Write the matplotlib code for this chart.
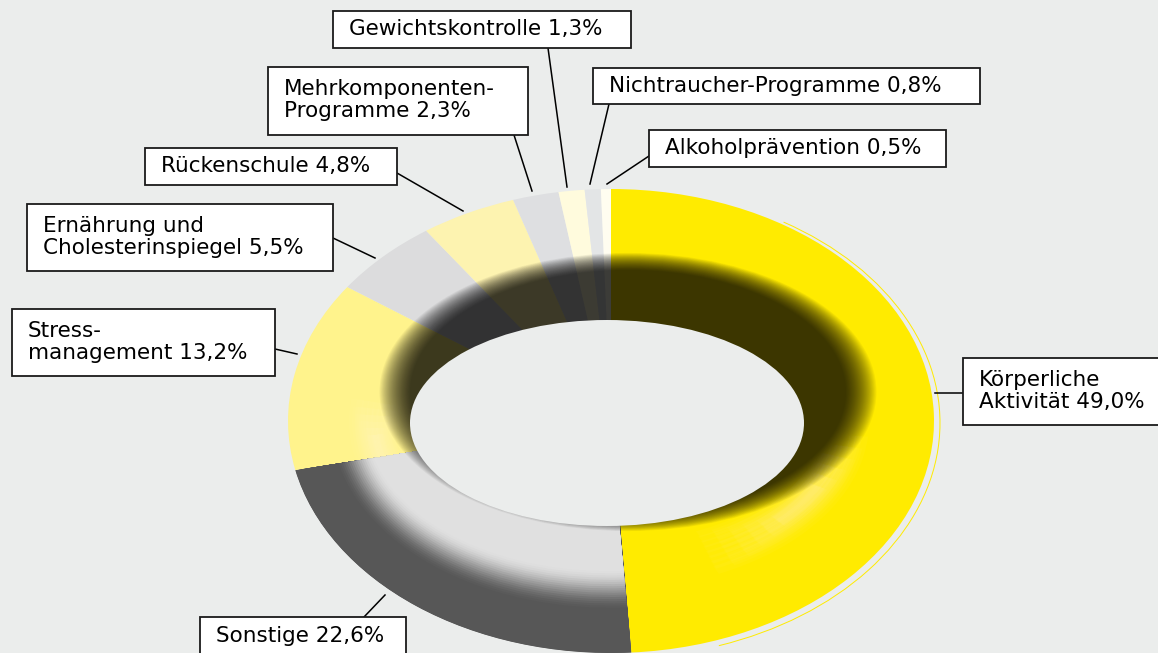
import numpy as np
import matplotlib.pyplot as plt
from matplotlib.patches import Ellipse, Rectangle, Wedge, Arc
from matplotlib.transforms import Affine2D
from matplotlib.colors import to_rgb

# shares of the prevention programmes (percent), clockwise from 12 o'clock
labels = ["Körperliche\nAktivität 49,0%", "Sonstige 22,6%", "Stress-\nmanagement 13,2%",
          "Ernährung und\nCholesterinspiegel 5,5%", "Rückenschule 4,8%",
          "Mehrkomponenten-\nProgramme 2,3%", "Gewichtskontrolle 1,3%",
          "Nichtraucher-Programme 0,8%", "Alkoholprävention 0,5%"]
shares = [49.0, 22.6, 13.2, 5.5, 4.8, 2.3, 1.3, 0.8, 0.5]
colors = ["#FFEB00", "#5A5A5A", "#FFF38C", "#DCDCDD", "#FDF3B0",
          "#DEDFE1", "#FFFBDD", "#E3E5E6", "#FFFDF0"]

# label boxes (left, top, right, bottom) and leader lines, in pixels
boxes = [(963, 358, 1175, 425), (200, 617, 406, 670), (12, 309, 275, 376),
         (27, 204, 333, 271), (145, 148, 397, 185), (268, 67, 528, 135),
         (333, 11, 631, 48), (593, 68, 980, 104), (649, 130, 946, 167)]
text_y = [391, 636, 342, 237, 166, 100, 29, 86, 148]
leaders = [((935, 393), (963, 393)), ((364, 617), (385, 595)), ((275, 349), (297, 354)),
           ((333, 238), (375, 258)), ((397, 173), (463, 211)), ((514, 135), (532, 191)),
           ((548, 48), (567, 187)), ((609, 104), (590, 184)), ((649, 156), (607, 184))]

bg = "#EBEDEC"
W, H = 1158, 653
fig = plt.figure(figsize=(W / 100, H / 100), dpi=100, facecolor=bg)
ax = fig.add_axes([0, 0, 1, 1])
ax.set_facecolor(bg)

# ring geometry (outer ellipse and hole), pixels
cx, cy, rx, ry = 611, 421, 323, 232
hx, hy, hrx, hry = 607, 423, 197, 103


def ring_tf(t):
    # ellipse between outer edge (t=0) and hole (t=1)
    x0 = cx + (hx - cx) * t
    y0 = cy + (hy - cy) * t
    a = rx + (hrx - rx) * t
    b = ry + (hry - ry) * t
    return Affine2D().scale(a, -b).translate(x0, y0) + ax.transData


wedges, _ = ax.pie(shares, colors=colors, startangle=90, counterclock=False,
                   radius=1, wedgeprops=dict(linewidth=0))
for w in wedges:
    w.set_transform(ring_tf(0))

# radial shading of "Sonstige": dark outside, light towards the hole
son = wedges[1]
dark = np.array(to_rgb("#575757"))
light = np.array(to_rgb("#E0E0E0"))
for t in np.linspace(0, 1, 60):
    k = np.clip((t - 0.33) / 0.32, 0, 1)
    k = k * k * (3 - 2 * k)
    c = dark + (light - dark) * k
    p = Wedge((0, 0), 1, son.theta1, son.theta2, facecolor=c, linewidth=0,
              transform=ring_tf(t))
    ax.add_patch(p)
    p.set_clip_path(son)

# soft highlights on the yellow slices (tapered both ways)
for w, mid, half, col in [(wedges[0], -35, 30, "#FFF8B0"), (wedges[2], 190, 18, "#FFF8C8")]:
    for j in range(6):
        span = half * (1 - j / 7)
        t0, t1 = 0.5 + 0.025 * j, 0.82 - 0.025 * j
        for t in np.linspace(t0, t1, 8):
            q = Wedge((0, 0), 1, mid - span, mid + span, width=0.05, facecolor=col,
                      alpha=0.045, linewidth=0, transform=ring_tf(t))
            ax.add_patch(q)
            q.set_clip_path(w)

# inner wall shadow on the far side of the ring
clip = Ellipse((cx, cy), 2 * rx, 2 * ry, transform=ax.transData)
for s in np.linspace(1.14, 1.0, 30):
    e = Ellipse((628, 392), 2 * 218 * s, 2 * 122 * s, facecolor="black",
                alpha=0.045, linewidth=0)
    ax.add_patch(e)
    e.set_clip_path(clip)

# hole
ax.add_patch(Ellipse((hx, hy), 2 * hrx, 2 * hry, facecolor=bg, linewidth=0))

# thin outer rim on the right
ax.add_patch(Arc((cx + 4, cy + 2), 2 * rx + 4, 2 * ry + 6, theta1=-50, theta2=65,
                 color="#FFEB00", linewidth=0.7))

# labels
for lab, (l, t, r, b), ty, (p0, p1) in zip(labels, boxes, text_y, leaders):
    ax.plot([p0[0], p1[0]], [p0[1], p1[1]], color="black", linewidth=1.1, zorder=5)
    ax.add_patch(Rectangle((l, t), r - l, b - t, facecolor="white",
                           edgecolor="#1a1a1a", linewidth=1.3, zorder=6))
    ax.text(l + 16, ty, lab, ha="left", va="center", fontsize=15.5,
            family="DejaVu Sans", color="black", linespacing=1.15, zorder=7)

ax.set_xlim(0, W)
ax.set_ylim(H, 0)
ax.set_aspect("auto")
ax.axis("off")

fig.savefig("out.png", dpi=100, facecolor=bg)
